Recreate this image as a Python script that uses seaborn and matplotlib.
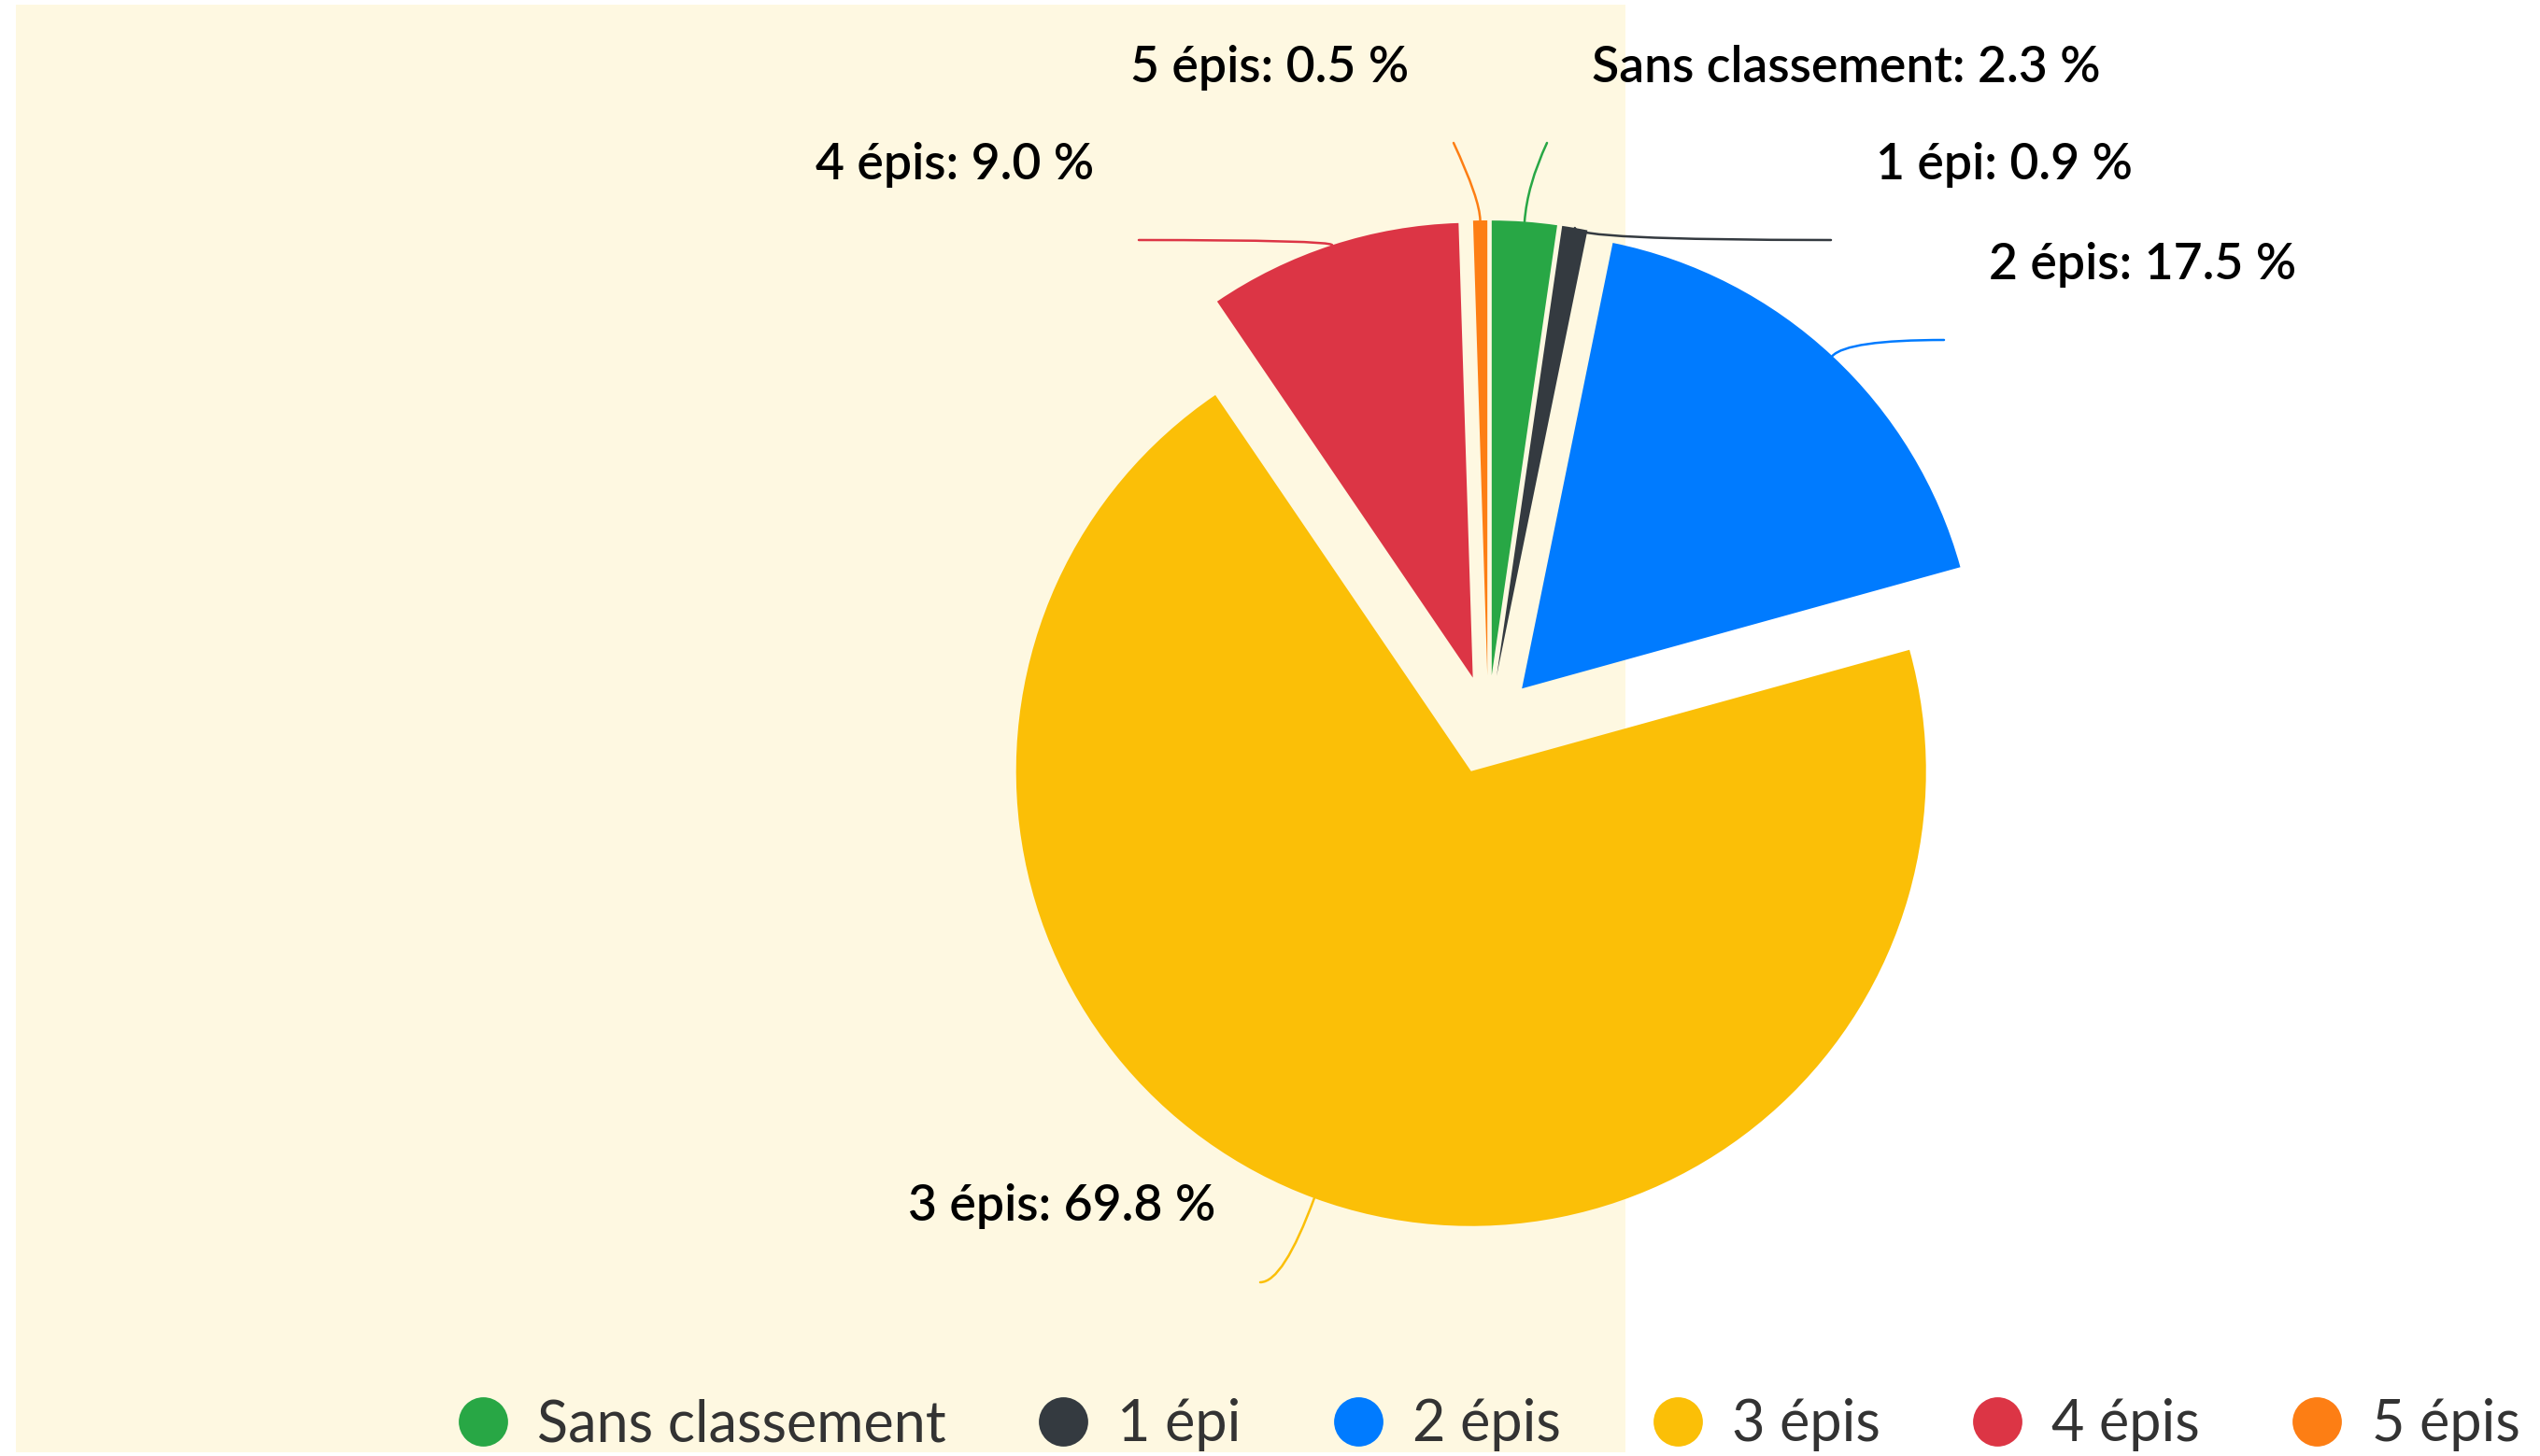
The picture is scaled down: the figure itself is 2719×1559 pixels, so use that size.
import matplotlib
matplotlib.use("Agg")
import matplotlib.pyplot as plt
import seaborn as sns
from matplotlib.lines import Line2D
from matplotlib.patches import FancyArrowPatch, Rectangle
import numpy as np

# data
categories = ["Sans classement", "1 épi", "2 épis", "3 épis", "4 épis", "5 épis"]
shares = [2.3, 0.9, 17.5, 69.8, 9.0, 0.5]
palette = ["#28a745", "#343a40", "#007bff", "#fbbf07", "#dc3545", "#fd7e14"]

# layout (pixel units, image coords: y downwards)
W, H = 2719, 1559
PIE_CX, PIE_CY, PIE_R = 1593, 776, 487
SLICE_OFFSET = 53
# where each data label connector ends, and the connector's end direction
label_ends = {
    "Sans classement": (1656, 153, 65),
    "1 épi": (1960, 257, 0),
    "2 épis": (2081, 364, 0),
    "3 épis": (1349, 1373, 0),
    "4 épis": (1219, 257, 0),
    "5 épis": (1556, 153, 115),
}
left_labels = {"3 épis", "4 épis", "5 épis"}

sns.set_theme(style="white")
plt.rcParams["font.family"] = ["Lato", "DejaVu Sans"]

fig = plt.figure(figsize=(W / 100, H / 100), dpi=100)
ax = fig.add_axes([0, 0, 1, 1])

ax.add_patch(Rectangle((17, H - 1555), 1740 - 17, 1550, color="#fef8e1", lw=0, zorder=0))

# every slice is pulled out; explode is in data units here (radius is in pixels)
explode = [SLICE_OFFSET] * len(categories)
wedges, _ = ax.pie(
    shares, colors=palette, startangle=90, counterclock=False,
    explode=explode, center=(PIE_CX, H - PIE_CY), radius=PIE_R,
    wedgeprops=dict(linewidth=0),
)

for w, cat, val, col in zip(wedges, categories, shares, palette):
    mid = np.deg2rad((w.theta1 + w.theta2) / 2)
    cx, cy = w.center
    start = (cx + w.r * np.cos(mid), cy + w.r * np.sin(mid))
    ex, ey, end_ang = label_ends[cat]
    end = (ex, H - ey)
    conn = FancyArrowPatch(
        start, end, arrowstyle="-", color=col, lw=1.8,
        connectionstyle=f"angle3,angleA={np.rad2deg(mid):.1f},angleB={end_ang}",
        shrinkA=0, shrinkB=0, zorder=3,
    )
    ax.add_patch(conn)
    right = cat not in left_labels
    tx = end[0] + (48 if right else -48)
    ax.text(tx, end[1] + 81, f"{cat}: {val:.1f} %", ha="left" if right else "right",
            va="center", fontsize=38.5, fontweight="semibold", color="#000000", zorder=4)

handles = [Line2D([], [], marker="o", ls="", markersize=38, markerfacecolor=c,
                  markeredgewidth=0) for c in palette]
ax.legend(handles, categories, loc="center", bbox_to_anchor=(1592 / W, 1 - 1526 / H),
          ncol=6, frameon=False, fontsize=44, labelcolor="#333333",
          handletextpad=0.45, columnspacing=1.55, handlelength=1.0)

ax.set_xlim(0, W)
ax.set_ylim(0, H)
ax.set_aspect("equal")
ax.axis("off")

fig.savefig("out.png", dpi=100, facecolor="white")
